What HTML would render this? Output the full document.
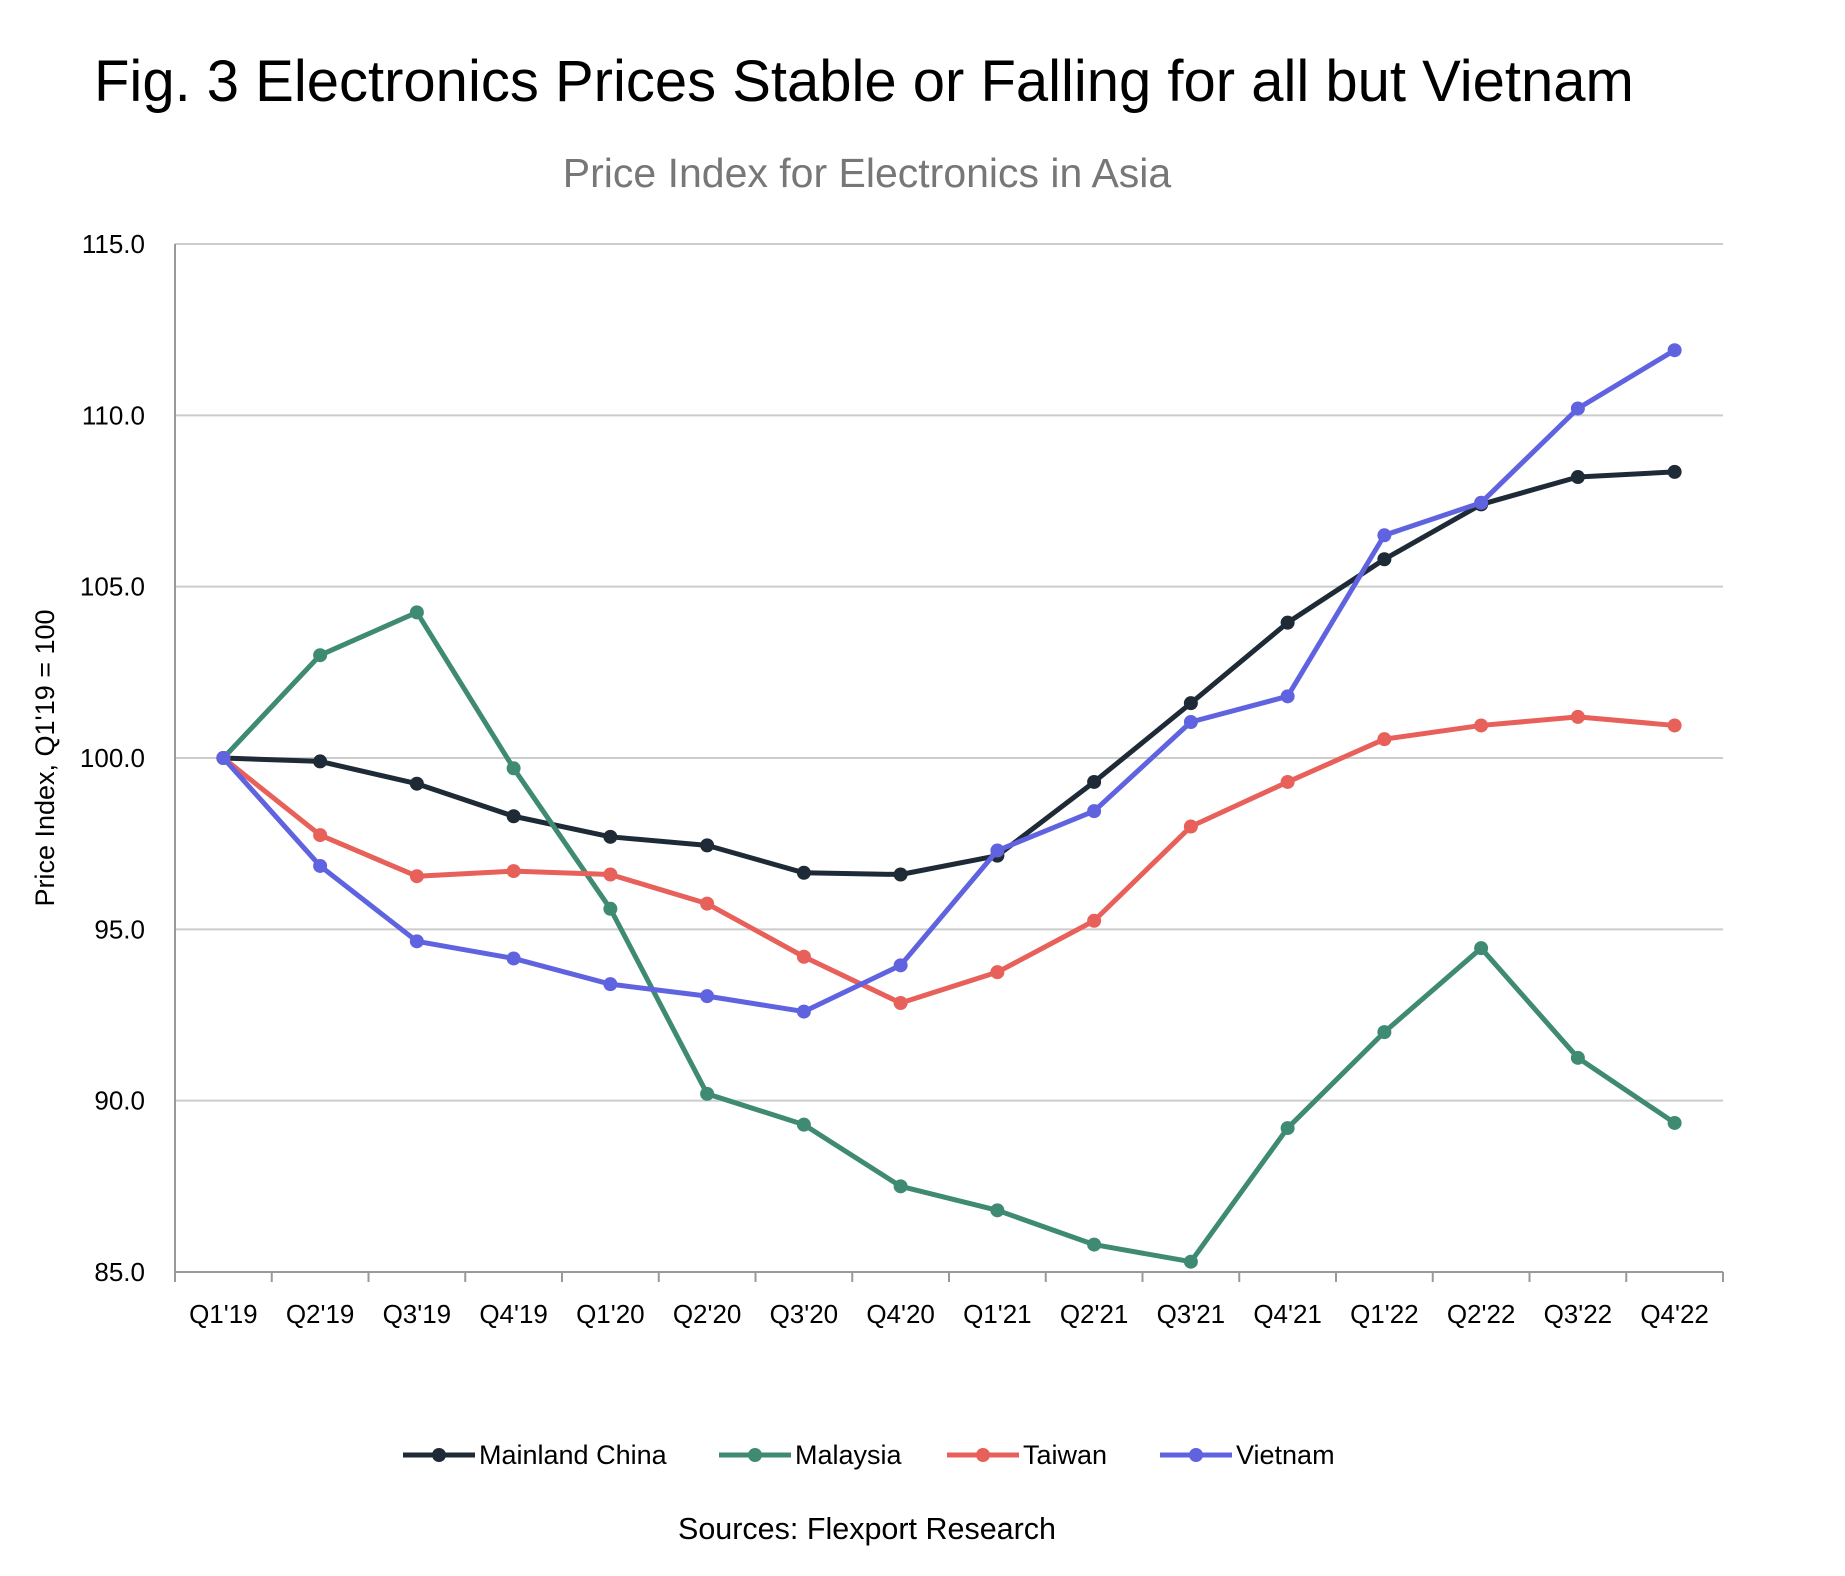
<!DOCTYPE html>
<html><head><meta charset="utf-8"><style>
body{margin:0;background:#fff;}
svg{display:block;font-family:"Liberation Sans",sans-serif;}
</style></head><body>
<svg width="1845" height="1576" viewBox="0 0 1845 1576">
<text x="94" y="101" font-size="58" fill="#000">Fig. 3 Electronics Prices Stable or Falling for all but Vietnam</text>
<text x="867" y="187" font-size="41" fill="#777" text-anchor="middle">Price Index for Electronics in Asia</text>
<g id="grid"></g><g id="axes"></g><g id="series"></g>
<text transform="translate(54,758) rotate(-90)" font-size="27" text-anchor="middle" fill="#000">Price Index, Q1'19 = 100</text>
<g id="legend"></g>
<text x="867" y="1539" font-size="30.5" text-anchor="middle" fill="#000">Sources: Flexport Research</text>
</svg>
<script>
const categories=["Q1'19","Q2'19","Q3'19","Q4'19","Q1'20","Q2'20","Q3'20","Q4'20","Q1'21","Q2'21","Q3'21","Q4'21","Q1'22","Q2'22","Q3'22","Q4'22"];
const yTicks=[85,90,95,100,105,110,115];
const seriesNames=["Mainland China","Malaysia","Taiwan","Vietnam"];
const chinaValues=[100,99.9,99.25,98.3,97.7,97.45,96.65,96.6,97.15,99.3,101.6,103.95,105.8,107.4,108.2,108.35];
const malaysiaValues=[100,103.0,104.25,99.7,95.6,90.2,89.3,87.5,86.8,85.8,85.3,89.2,92.0,94.45,91.25,89.35];
const taiwanValues=[100,97.75,96.55,96.7,96.6,95.75,94.2,92.85,93.75,95.25,98.0,99.3,100.55,100.95,101.2,100.95];
const vietnamValues=[100,96.85,94.65,94.15,93.4,93.05,92.6,93.95,97.3,98.45,101.05,101.8,106.5,107.45,110.2,111.9];
const NS="http://www.w3.org/2000/svg";
const L=175,R=1723,T=244,B=1272,ymin=85,ymax=115;
const bw=(R-L)/categories.length;
const x=i=>L+bw*(i+0.5);
const y=v=>B-(v-ymin)/(ymax-ymin)*(B-T);
function mk(tag,at,parent){const e=document.createElementNS(NS,tag);for(const k in at)e.setAttribute(k,at[k]);parent.appendChild(e);return e;}
const grid=document.getElementById('grid'),axes=document.getElementById('axes'),ser=document.getElementById('series'),leg=document.getElementById('legend');
yTicks.forEach(t=>{
 const ln=mk('line',{x1:L,x2:R,y1:y(t),y2:y(t),stroke:t===ymin?'#999':'#ccc','stroke-width':2},grid);
 
 
 const tx=mk('text',{x:145,y:y(t)+9,'font-size':26,'text-anchor':'end',fill:'#000'},axes);
 tx.textContent=t.toFixed(1);
 
 
});
const ya=mk('line',{x1:L,x2:L,y1:T,y2:B,stroke:'#999','stroke-width':2},axes);


for(let i=0;i<=categories.length;i++){
 const tk=mk('line',{x1:L+bw*i,x2:L+bw*i,y1:B,y2:B+10,stroke:'#999','stroke-width':2},axes);
 
 
}
categories.forEach((c,i)=>{
 const tx=mk('text',{x:x(i),y:1323,'font-size':26,'text-anchor':'middle',fill:'#000'},axes);
 tx.textContent=c;
 
 
});
const colors=["#1f2a37","#3f8a73","#e8605a","#6063e0"];
const allValues=[chinaValues,malaysiaValues,taiwanValues,vietnamValues];
allValues.forEach((vals,s)=>{
 const g=mk('g',{},ser);
 
 
 const p=mk('polyline',{points:vals.map((v,i)=>x(i)+','+y(v)).join(' '),fill:'none',stroke:colors[s],'stroke-width':5,'stroke-linejoin':'round'},g);
 
 
 vals.forEach((v,i)=>{
  const c=mk('circle',{cx:x(i),cy:y(v),r:7,fill:colors[s]},g);
  
  
 });
});
const legX=[403,719,947,1160];
seriesNames.forEach((n,s)=>{
 const g=mk('g',{},leg);
 
 
 mk('line',{x1:legX[s],x2:legX[s]+72,y1:1455,y2:1455,stroke:colors[s],'stroke-width':5},g);
 mk('circle',{cx:legX[s]+36,cy:1455,r:7,fill:colors[s]},g);
 const t=mk('text',{x:legX[s]+76,y:1464,'font-size':27,fill:'#000'},g);
 t.textContent=n;
});
</script>
</body></html>
